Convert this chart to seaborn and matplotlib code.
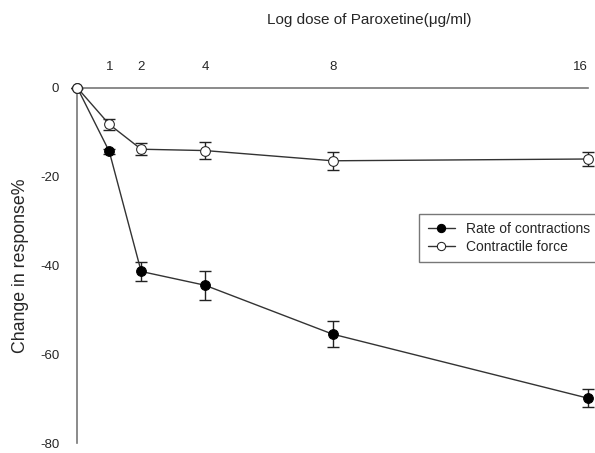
import matplotlib
matplotlib.use("Agg")
import matplotlib.pyplot as plt
import seaborn as sns
import pandas as pd

dose = [0, 1, 2, 4, 8, 16]
tick_labels = ["1", "2", "4", "8", "16"]
rate = [0, -14.3, -41.3, -44.4, -55.4, -69.8]
rate_err = [0, 0.5, 2.1, 3.3, 3.0, 2.0]
force = [0, -8.2, -13.8, -14.1, -16.4, -16.0]
force_err = [0, 1.3, 1.4, 2.0, 2.0, 1.5]
y_ticks = [0, -20, -40, -60, -80]

sns.set_style("white")
plt.rcParams["font.family"] = ["Liberation Sans", "DejaVu Sans"]

df = pd.DataFrame({
    "dose": dose * 2,
    "value": rate + force,
    "series": ["Rate of contractions"] * len(dose) + ["Contractile force"] * len(dose),
})

fig = plt.figure(figsize=(5.95, 4.53), dpi=100)
ax = fig.add_axes([0.130, 0.021, 0.858, 0.785])

# error bars
ax.errorbar(dose, rate, yerr=rate_err, fmt="none", ecolor="#222222",
            elinewidth=1, capsize=4, capthick=1, zorder=2, clip_on=False)
ax.errorbar(dose, force, yerr=force_err, fmt="none", ecolor="#222222",
            elinewidth=1, capsize=4, capthick=1, zorder=2, clip_on=False)

sub_r = df[df.series == "Rate of contractions"]
sub_f = df[df.series == "Contractile force"]
sns.lineplot(data=sub_r, x="dose", y="value", ax=ax, color="#333333", lw=1,
             marker="o", markersize=7, markerfacecolor="black",
             markeredgecolor="black", label="Rate of contractions", zorder=3,
             clip_on=False)
sns.lineplot(data=sub_f, x="dose", y="value", ax=ax, color="#333333", lw=1,
             marker="o", markersize=7, markerfacecolor="white",
             markeredgecolor="#222222", label="Contractile force", zorder=4,
             clip_on=False)

ax.set_xlim(0, 16)
ax.set_ylim(-80, 0)
ax.xaxis.tick_top()
ax.set_xticks(dose[1:])
ax.set_xticklabels(tick_labels, fontsize=9.5)
ax.get_xticklabels()[-1].set_horizontalalignment("right")
ax.set_yticks(y_ticks)
ax.set_yticklabels([str(v) for v in y_ticks], fontsize=9.5)
ax.tick_params(axis="both", length=0)
ax.tick_params(axis="y", pad=13)
ax.tick_params(axis="x", pad=11)
ax.set_xlabel("")
ax.set_ylabel("Change in response%", fontsize=12.8, labelpad=8)

for s in ["bottom", "right"]:
    ax.spines[s].set_visible(False)
for s in ["top", "left"]:
    ax.spines[s].set_color("#777777")
    ax.spines[s].set_linewidth(1.2)

fig.text(0.62, 0.955, "Log dose of Paroxetine(\u03bcg/ml)", ha="center",
         va="center", fontsize=11)

leg = ax.legend(loc="upper left", bbox_to_anchor=(0.656, 0.666), fontsize=10,
                frameon=True, fancybox=False, edgecolor="#555555",
                borderpad=0.6, handlelength=2.0, labelspacing=0.3,
                markerscale=0.85)
leg.get_frame().set_linewidth(1)

fig.savefig("out.png", dpi=100)
